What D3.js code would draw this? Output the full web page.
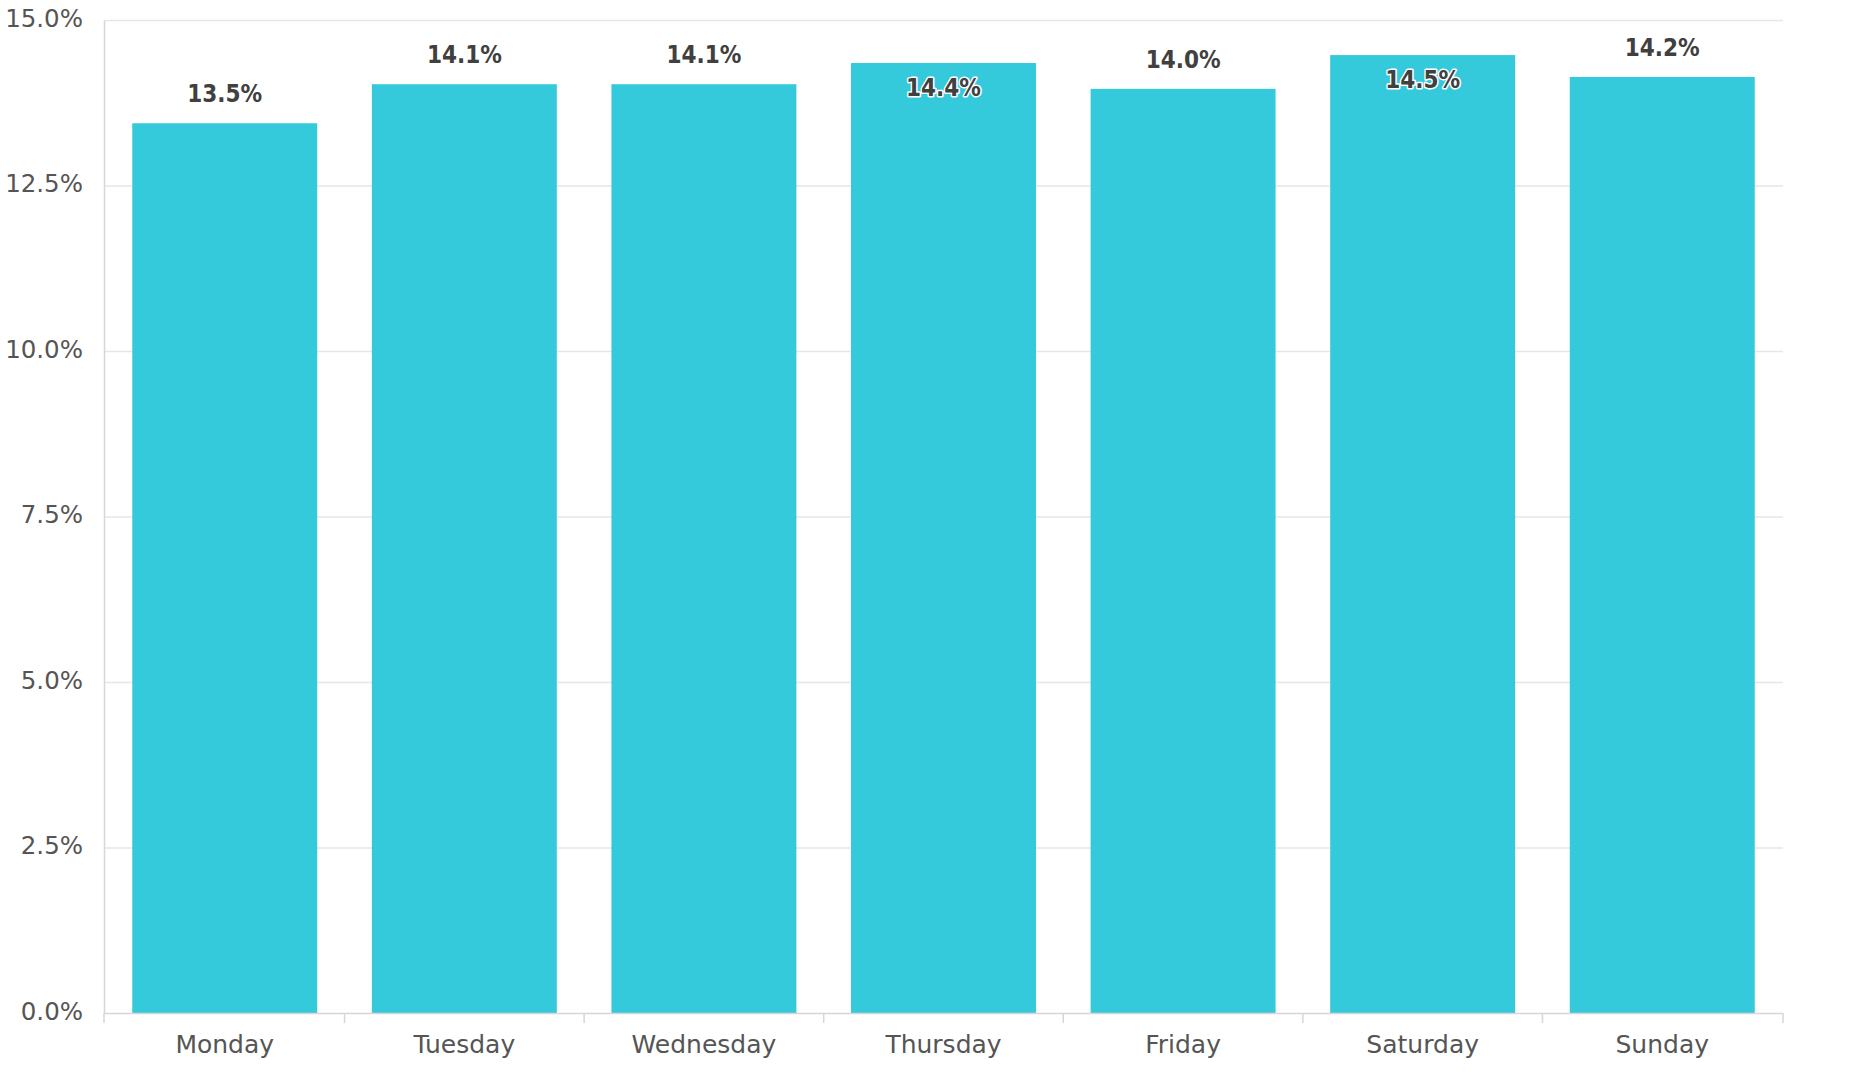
<!DOCTYPE html>
<html>
<head>
<meta charset="utf-8">
<script src="https://cdn.jsdelivr.net/npm/d3@7/dist/d3.min.js"></script>
<style>
  html, body { margin: 0; padding: 0; background: #ffffff; }
  svg { display: block; }
</style>
</head>
<body>
<svg id="chart" width="1858" height="1080"></svg>
<script>
// ---- data ----
const categories = ["Monday", "Tuesday", "Wednesday", "Thursday", "Friday", "Saturday", "Sunday"];
const values = [13.44, 14.03, 14.03, 14.35, 13.96, 14.47, 14.14];
const valueLabels = ["13.5%", "14.1%", "14.1%", "14.4%", "14.0%", "14.5%", "14.2%"];
const yTicks = [0, 2.5, 5, 7.5, 10, 12.5, 15];
const yTickLabels = ["0.0%", "2.5%", "5.0%", "7.5%", "10.0%", "12.5%", "15.0%"];

// ---- layout ----
const margin = { left: 104, right: 1858 - 1783, top: 20, bottom: 1080 - 1013 };
const W = 1858, H = 1080;
const svg = d3.select("#chart");
const plotW = W - margin.left - margin.right;
const plotH = H - margin.top - margin.bottom;

const x = d3.scaleBand()
  .domain(categories)
  .range([margin.left, margin.left + plotW])
  .paddingInner(0.228)
  .paddingOuter(0.118);

const y = d3.scaleLinear()
  .domain([0, 15])
  .range([margin.top + plotH, margin.top]);

const font = "'DejaVu Sans', sans-serif";

// gridlines
svg.append("g")
  .selectAll("line")
  .data(yTicks.filter(d => d > 0))
  .join("line")
  .attr("x1", margin.left)
  .attr("x2", margin.left + plotW)
  .attr("y1", d => y(d) + 0.5)
  .attr("y2", d => y(d) + 0.5)
  .attr("stroke", "#e6e6e6")
  .attr("stroke-width", 1.5);

// y axis
const yAxis = d3.axisLeft(y)
  .tickValues(yTicks)
  .tickFormat((d, i) => yTickLabels[i])
  .tickSize(0)
  .tickPadding(21);
const gy = svg.append("g")
  .attr("transform", `translate(${margin.left},0)`)
  .call(yAxis);
gy.select(".domain").attr("stroke", "#d6d6d6").attr("stroke-width", 1.5);
gy.selectAll("text")
  .attr("font-family", font)
  .attr("font-size", 24.5)
  .attr("fill", "#555")
  .attr("dy", "0.26em");

// bars
svg.append("g")
  .selectAll("rect")
  .data(categories)
  .join("rect")
  .attr("x", d => x(d))
  .attr("width", x.bandwidth())
  .attr("y", (d, i) => y(values[i]))
  .attr("height", (d, i) => y(0) - y(values[i]))
  .attr("fill", "#35c9dc");

// x axis
const bounds = categories.map(c => x(c) - x.step() * x.paddingInner() / 2);
bounds.push(margin.left + plotW);
const gx = svg.append("g")
  .attr("transform", `translate(0,${y(0)})`);
gx.append("line")
  .attr("x1", margin.left)
  .attr("x2", margin.left + plotW)
  .attr("y1", 0.5).attr("y2", 0.5)
  .attr("stroke", "#d6d6d6")
  .attr("stroke-width", 1.5);
gx.selectAll("line.tick")
  .data([margin.left, ...bounds.slice(1)])
  .join("line")
  .attr("class", "tick")
  .attr("x1", d => d).attr("x2", d => d)
  .attr("y1", 0).attr("y2", 10)
  .attr("stroke", "#d6d6d6")
  .attr("stroke-width", 1.5);
const xAxis = d3.axisBottom(x).tickSize(0).tickPadding(0);
const gxl = svg.append("g")
  .attr("transform", `translate(0,${y(0)})`)
  .call(xAxis);
gxl.select(".domain").remove();
gxl.selectAll("text")
  .attr("font-family", font)
  .attr("font-size", 25)
  .attr("fill", "#555")
  .attr("y", 40)
  .attr("dy", 0);

// value labels
svg.append("g")
  .selectAll("text")
  .data(categories)
  .join("text")
  .attr("x", d => x(d) + x.bandwidth() / 2)
  .attr("y", (d, i) => {
    const top = y(values[i]);
    return top < 70 ? top + 33 : top - 21;
  })
  .attr("text-anchor", "middle")
  .attr("font-family", "'DejaVu Sans Condensed', 'DejaVu Sans', sans-serif")
  .attr("font-stretch", "condensed")
  .attr("font-weight", "bold")
  .attr("font-size", 24)
  .attr("fill", "#404040")
  .attr("stroke", "#ffffff")
  .attr("stroke-width", 3)
  .attr("stroke-linejoin", "round")
  .attr("paint-order", "stroke")
  .text((d, i) => valueLabels[i]);
</script>
</body>
</html>
